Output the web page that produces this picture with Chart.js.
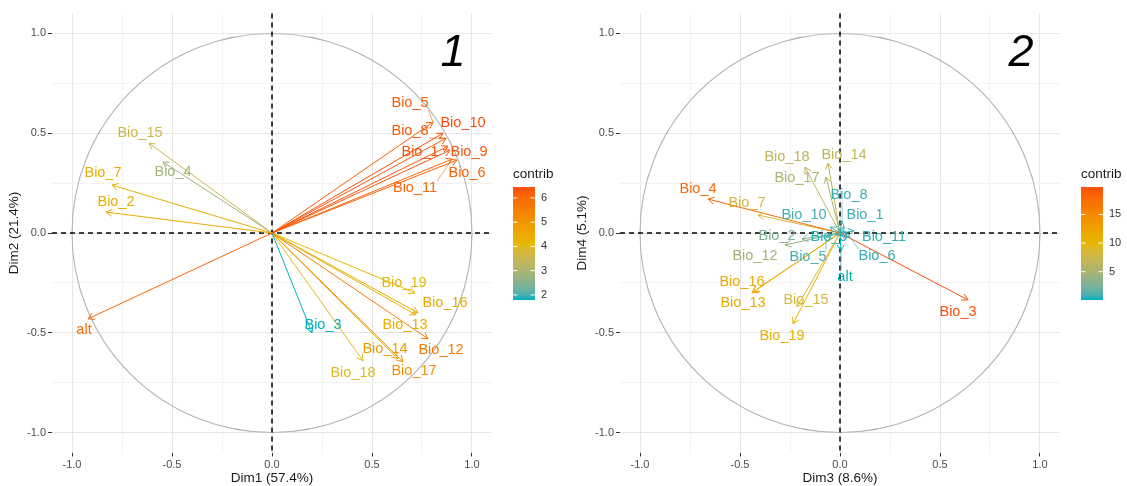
<!DOCTYPE html>
<html><head><meta charset="utf-8">
<script src="https://cdn.jsdelivr.net/npm/chart.js@4/dist/chart.umd.min.js"></script>
<style>
html,body{margin:0;padding:0;background:#fff;}
#wrap{position:relative;width:1127px;height:486px;overflow:hidden;}
.pane{position:absolute;top:0;height:486px;}
</style></head><body>
<div id="wrap">
<div class="pane" style="left:0;width:568px"><canvas id="c1" width="568" height="486"></canvas></div>
<div class="pane" style="left:568px;width:559px"><canvas id="c2" width="559" height="486"></canvas></div>
</div>
<script>
// ---------- DATA ----------
const varNames = ["alt","Bio_1","Bio_2","Bio_3","Bio_4","Bio_5","Bio_6","Bio_7","Bio_8","Bio_9","Bio_10",
                  "Bio_11","Bio_12","Bio_13","Bio_14","Bio_15","Bio_16","Bio_17","Bio_18","Bio_19"];

// Panel 1: Dim1 / Dim2
const dim1 = [-0.92, 0.88,-0.83, 0.20,-0.545, 0.805, 0.925,-0.80, 0.87, 0.89, 0.855, 0.90, 0.78, 0.72, 0.63,-0.615, 0.73, 0.655, 0.455, 0.715];
const dim2 = [-0.43, 0.435, 0.105,-0.50, 0.356, 0.555, 0.365, 0.24, 0.475, 0.415, 0.50, 0.37,-0.53,-0.41,-0.63, 0.45,-0.40,-0.645,-0.64,-0.30];
const contrib12 = [6.0, 6.4, 4.45, 1.79, 2.85, 6.2, 6.1, 4.35, 6.3, 6.35, 6.45, 6.05, 5.6, 4.4, 4.85, 3.6, 4.5, 5.1, 4.0, 4.1];
const label12X = [-0.94, 0.74,-0.78, 0.255,-0.495, 0.69, 0.975,-0.845, 0.69, 0.985, 0.955, 0.715, 0.845, 0.665, 0.565,-0.66, 0.865, 0.71, 0.405, 0.66];
const label12Y = [-0.486, 0.405, 0.155,-0.46, 0.305, 0.65, 0.30, 0.30, 0.51, 0.405, 0.55, 0.225,-0.585,-0.46,-0.58, 0.50,-0.35,-0.69,-0.70,-0.25];
const legendTicks12 = [2,3,4,5,6];

// Panel 2: Dim3 / Dim4
const dim3 = [0.005, 0.02,-0.19, 0.64,-0.66,-0.07, 0.05,-0.41, 0.01,-0.02,-0.05, 0.07,-0.275,-0.44,-0.06,-0.215,-0.435,-0.07,-0.175,-0.235];
const dim4 = [-0.09, 0.03,-0.03,-0.335, 0.17,-0.02,-0.02, 0.09, 0.06,-0.01, 0.03, 0.01,-0.06,-0.30, 0.35,-0.37,-0.295, 0.28, 0.33,-0.455];
const contrib34 = [0.05, 0.6, 2.6, 19.8, 18.0, 0.8, 0.5, 8.2, 0.6, 0.3, 0.7, 0.5, 4.6, 11.5, 6.6, 8.3, 11.8, 5.2, 6.6, 10.8];
const label34X = [0.025, 0.125,-0.315, 0.59,-0.71,-0.16, 0.185,-0.465, 0.045,-0.055,-0.18, 0.22,-0.425,-0.485, 0.02,-0.17,-0.49,-0.215,-0.265,-0.29];
const label34Y = [-0.22, 0.09,-0.015,-0.395, 0.22,-0.12,-0.115, 0.15, 0.19,-0.02, 0.09,-0.02,-0.115,-0.35, 0.39,-0.335,-0.245, 0.275, 0.38,-0.515];
const legendTicks34 = [5,10,15];

const axisTicks = [-1,-0.75,-0.5,-0.25,0,0.25,0.5,0.75,1];

// ---------- HELPERS ----------
const FONT = "'Liberation Sans', Arial, sans-serif";
const cLow=[0,175,187], cMid=[231,184,0], cHigh=[252,78,7];
function s2l(c){c/=255;return c<=0.04045?c/12.92:Math.pow((c+0.055)/1.055,2.4);}
function l2s(c){c=c<=0.0031308?12.92*c:1.055*Math.pow(c,1/2.4)-0.055;return Math.max(0,Math.min(255,Math.round(c*255)));}
const WX=0.95047,WY=1,WZ=1.08883;
function fLab(t){return t>0.008856?Math.cbrt(t):7.787*t+16/116;}
function fInv(t){return t>0.206893?t*t*t:(t-16/116)/7.787;}
function toLab(rgb){
  const r=s2l(rgb[0]),g=s2l(rgb[1]),b=s2l(rgb[2]);
  const X=(0.4124*r+0.3576*g+0.1805*b)/WX, Y=(0.2126*r+0.7152*g+0.0722*b)/WY, Z=(0.0193*r+0.1192*g+0.9505*b)/WZ;
  const fx=fLab(X),fy=fLab(Y),fz=fLab(Z);
  return [116*fy-16,500*(fx-fy),200*(fy-fz)];
}
function fromLab(lab){
  const fy=(lab[0]+16)/116, fx=fy+lab[1]/500, fz=fy-lab[2]/200;
  const X=fInv(fx)*WX,Y=fInv(fy)*WY,Z=fInv(fz)*WZ;
  const r=3.2406*X-1.5372*Y-0.4986*Z, g=-0.9689*X+1.8758*Y+0.0415*Z, b=0.0557*X-0.2040*Y+1.0570*Z;
  return [l2s(r),l2s(g),l2s(b)];
}
const LLow=toLab(cLow), LMid=toLab(cMid), LHigh=toLab(cHigh);
function mixLab(a,b,t){return fromLab(a.map((v,i)=>v+(b[i]-v)*t));}
function colT(t){
  t=Math.max(0,Math.min(1,t));
  const c = t<0.5 ? mixLab(LLow,LMid,t*2) : mixLab(LMid,LHigh,(t-0.5)*2);
  return `rgb(${c[0]},${c[1]},${c[2]})`;
}
function gradCol(v,min,max){ return colT((v-min)/(max-min)); }
function isMajor(v){return Math.abs(v*2-Math.round(v*2))<1e-9;}

const pcaPlugin = {
  id:'pca',
  beforeDatasetsDraw(chart){
    const {ctx, chartArea:a, scales:{x,y}} = chart;
    ctx.save();
    const cx=x.getPixelForValue(0), cy=y.getPixelForValue(0);
    const rx=x.getPixelForValue(1)-cx, ry=cy-y.getPixelForValue(1);
    ctx.strokeStyle='#b3b3b3'; ctx.lineWidth=1.1;
    ctx.beginPath(); ctx.ellipse(cx,cy,rx,ry,0,0,Math.PI*2); ctx.stroke();
    ctx.strokeStyle='#000'; ctx.lineWidth=1.5; ctx.setLineDash([5,4]);
    ctx.beginPath(); ctx.moveTo(a.left,cy); ctx.lineTo(a.right,cy); ctx.stroke();
    ctx.beginPath(); ctx.moveTo(cx,a.top); ctx.lineTo(cx,a.bottom); ctx.stroke();
    ctx.restore();
  },
  afterDatasetsDraw(chart, args, opts){
    const {ctx, scales:{x,y}} = chart;
    const cx=x.getPixelForValue(0), cy=y.getPixelForValue(0);
    ctx.save();
    chart.data.datasets.forEach(ds=>{
      const p=ds.data[1];
      const px=x.getPixelForValue(p.x), py=y.getPixelForValue(p.y);
      const ang=Math.atan2(py-cy,px-cx), L=7, A=Math.PI/6;
      ctx.strokeStyle=ds.borderColor; ctx.lineWidth=1;
      ctx.beginPath();
      ctx.moveTo(px-L*Math.cos(ang-A),py-L*Math.sin(ang-A));
      ctx.lineTo(px,py);
      ctx.lineTo(px-L*Math.cos(ang+A),py-L*Math.sin(ang+A));
      ctx.stroke();
    });
    ctx.font=`14.5px ${FONT}`; ctx.textAlign='center'; ctx.textBaseline='middle';
    chart.data.datasets.forEach((ds,i)=>{
      const p=ds.data[1];
      const px=x.getPixelForValue(p.x), py=y.getPixelForValue(p.y);
      const lx=x.getPixelForValue(opts.lx[i]), ly=y.getPixelForValue(opts.ly[i]);
      const w=ctx.measureText(ds.label).width, h=14;
      const bx=Math.max(lx-w/2,Math.min(px,lx+w/2)), by=Math.max(ly-h/2,Math.min(py,ly+h/2));
      const d=Math.hypot(px-bx,py-by);
      if(d>10){
        ctx.strokeStyle=ds.borderColor; ctx.lineWidth=0.6;
        ctx.beginPath(); ctx.moveTo(px,py); ctx.lineTo(bx,by); ctx.stroke();
      }
      ctx.fillStyle=ds.borderColor;
      ctx.fillText(ds.label,lx,ly);
    });
    ctx.fillStyle='#000'; ctx.font=`italic 45px ${FONT}`;
    ctx.fillText(opts.num, x.getPixelForValue(0.905), y.getPixelForValue(0.90));
    ctx.restore();
  },
  afterDraw(chart, args, opts){
    const {ctx, chartArea:a} = chart;
    const left=a.right+21, w=22, top=187, bottom=300;
    ctx.save();
    ctx.fillStyle='#1a1a1a'; ctx.font=`13.5px ${FONT}`; ctx.textAlign='left'; ctx.textBaseline='middle';
    ctx.fillText('contrib', left, 174);
    const g=ctx.createLinearGradient(0,bottom,0,top);
    for(let k=0;k<=20;k++){ g.addColorStop(k/20, colT(k/20)); }
    ctx.fillStyle=g; ctx.fillRect(left,top,w,bottom-top);
    ctx.font=`11px ${FONT}`; ctx.fillStyle='#333';
    opts.legendTicks.forEach(v=>{
      const yy=bottom-(v-opts.min)/(opts.max-opts.min)*(bottom-top);
      ctx.strokeStyle='#fff'; ctx.lineWidth=1;
      ctx.beginPath(); ctx.moveTo(left,yy); ctx.lineTo(left+4.5,yy);
      ctx.moveTo(left+w-4.5,yy); ctx.lineTo(left+w,yy); ctx.stroke();
      ctx.fillText(String(v), left+w+6, yy);
    });
    ctx.restore();
  }
};

function axis(title, isY){
  const o = {
    type:'linear', min:-1.1, max:1.1,
    afterBuildTicks:s=>{ s.ticks = axisTicks.map(v=>({value:v})); },
    ticks:{ autoSkip:false, maxRotation:0, padding:2, color:'#4d4d4d',
            font:{size:11, family:FONT},
            callback:v=> isMajor(v) ? v.toFixed(1) : '' },
    grid:{ color:c=> isMajor(c.tick.value)?'#e6e6e6':'#f2f2f2', lineWidth:1,
           tickLength:4, tickColor:c=> isMajor(c.tick.value)?'#333':'rgba(0,0,0,0)' },
    border:{display:false},
    title:{display:true, text:title, color:'#1a1a1a', font:{size:13.5, family:FONT},
           padding: isY?{top:6,bottom:0}:{top:0,bottom:0}}
  };
  if(isY) o.afterFit = s=>{ s.width=52; }; else o.afterFit = s=>{ s.height=33.5; };
  return o;
}

function makeChart(id, xs, ys, contrib, lx, ly, legendTicks, xTitle, yTitle, num, padRight){
  const min=Math.min(...contrib), max=Math.max(...contrib);
  const datasets = varNames.map((n,i)=>({
    label:n,
    data:[{x:0,y:0},{x:xs[i],y:ys[i]}],
    showLine:true, borderColor:gradCol(contrib[i],min,max), borderWidth:1,
    pointRadius:0, pointHoverRadius:0, fill:false
  }));
  new Chart(document.getElementById(id), {
    type:'scatter',
    data:{datasets},
    options:{
      responsive:false, animation:false, events:[],
      layout:{padding:{left:0,right:padRight,top:13.5,bottom:0}},
      plugins:{ legend:{display:false}, tooltip:{enabled:false},
        pca:{lx, ly, num, legendTicks, min, max} },
      scales:{ x:axis(xTitle,false), y:axis(yTitle,true) }
    },
    plugins:[pcaPlugin]
  });
}

makeChart('c1', dim1, dim2, contrib12, label12X, label12Y, legendTicks12, 'Dim1 (57.4%)', 'Dim2 (21.4%)', '1', 76);
makeChart('c2', dim3, dim4, contrib34, label34X, label34Y, legendTicks34, 'Dim3 (8.6%)', 'Dim4 (5.1%)', '2', 67);
</script>
</body></html>
